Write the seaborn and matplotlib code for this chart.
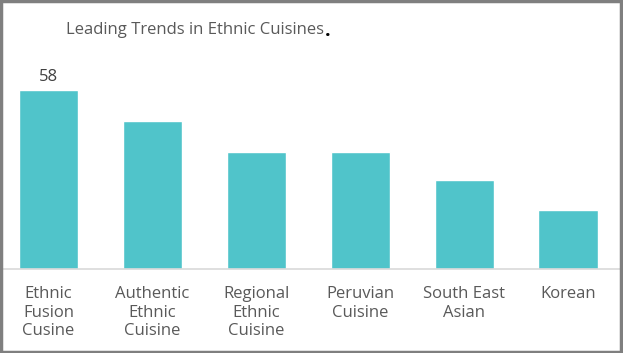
import pandas as pd
import matplotlib.pyplot as plt
import seaborn as sns
from matplotlib.patches import Rectangle

categories = ["Ethnic\nFusion\nCusine", "Authentic\nEthnic\nCuisine", "Regional\nEthnic\nCuisine",
              "Peruvian\nCuisine", "South East\nAsian", "Korean"]
values = [58, 48, 38, 38, 29, 19]
shown_labels = ["58", "", "", "", "", ""]

df = pd.DataFrame({"Cuisine": categories, "Share": values})

sns.set_theme(style="white")
plt.rcParams["font.family"] = ["Open Sans", "DejaVu Sans"]

fig = plt.figure(figsize=(6.23, 3.53), dpi=100)
ax = fig.add_axes([2 / 623, 84 / 353, 618 / 623, 229 / 353])

sns.barplot(data=df, x="Cuisine", y="Share", color="#50C4CA", saturation=1,
            width=0.57, ax=ax)

ax.set_xlim(-0.447, 5.5)
ax.set_ylim(0, 74.3)
ax.set_xlabel("")
ax.set_ylabel("")
ax.set_yticks([])
for side in ["top", "left", "right"]:
    ax.spines[side].set_visible(False)
ax.spines["bottom"].set_color("#D9D9D9")
ax.spines["bottom"].set_linewidth(1.2)
ax.tick_params(axis="x", length=0, pad=12, labelsize=12, labelcolor="#595959")
for lbl in ax.get_xticklabels():
    lbl.set_linespacing(1.24)

ax.bar_label(ax.containers[0], labels=shown_labels, padding=4, fontsize=12, color="#404040")

title = fig.text(66 / 623, 1 - 29.5 / 353, "Leading Trends in Ethnic Cuisines", fontsize=12,
                 color="#595959", ha="left", va="center")
fig.canvas.draw()
bb = title.get_window_extent().transformed(fig.transFigure.inverted())
fig.text(bb.x1 + 0.002, 1 - 30.5 / 353, ".", fontsize=14, fontweight="bold",
         color="black", ha="left", va="center")

fig.patches.append(Rectangle((0.002, 0.004), 0.994, 0.992, transform=fig.transFigure,
                             fill=False, edgecolor="#7F7F7F", linewidth=2.5))

fig.savefig("out.png", dpi=100)
